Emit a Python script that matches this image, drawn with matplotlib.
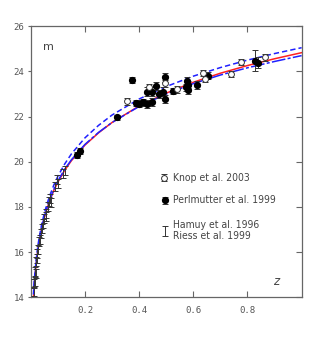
import numpy as np
import matplotlib
matplotlib.use("Agg")
import matplotlib.pyplot as plt

# model curves
z_curve = [0.005, 0.0075, 0.01, 0.012, 0.015, 0.02, 0.025, 0.03, 0.04, 0.05, 0.06, 0.07,
           0.085, 0.1, 0.125, 0.15, 0.2, 0.25, 0.3, 0.4, 0.5, 0.6, 0.7, 0.8, 0.9, 1.0]
m_red = [12.44, 13.33, 13.96, 14.36, 14.85, 15.48, 15.97, 16.38, 17.02, 17.52, 17.93, 18.28,
         18.73, 19.10, 19.62, 20.05, 20.74, 21.28, 21.74, 22.47, 23.04, 23.52, 23.92, 24.26, 24.56, 24.83]
m_dash = [12.64, 13.53, 14.16, 14.56, 15.05, 15.68, 16.17, 16.58, 17.22, 17.72, 18.14, 18.50,
          18.97, 19.36, 19.90, 20.35, 21.06, 21.61, 22.07, 22.78, 23.33, 23.79, 24.17, 24.50, 24.79, 25.05]
m_dashdot = [12.49, 13.38, 14.01, 14.41, 14.90, 15.53, 16.02, 16.43, 17.07, 17.57, 17.98, 18.33,
             18.78, 19.15, 19.67, 20.09, 20.77, 21.30, 21.74, 22.45, 23.00, 23.46, 23.84, 24.16, 24.44, 24.70]

# Perlmutter et al. 1999 (filled)
z_perl = [0.172, 0.180, 0.318, 0.373, 0.387, 0.400, 0.413, 0.428, 0.430, 0.448, 0.449, 0.464, 0.472,
          0.489, 0.495, 0.497, 0.526, 0.572, 0.578, 0.580, 0.581, 0.613, 0.656, 0.828, 0.840]
m_perl = [20.30, 20.48, 21.97, 23.61, 22.60, 22.57, 22.63, 22.55, 23.11, 23.11, 22.64, 23.36, 23.00,
          23.11, 22.79, 23.75, 23.13, 23.29, 23.57, 23.42, 23.18, 23.39, 23.81, 24.48, 24.38]
e_perl = [0.12, 0.12, 0.12, 0.14, 0.14, 0.15, 0.14, 0.18, 0.20, 0.20, 0.18, 0.18, 0.16,
          0.18, 0.18, 0.20, 0.15, 0.15, 0.18, 0.15, 0.17, 0.17, 0.15, 0.45, 0.25]

# Knop et al. 2003 (open)
z_knop = [0.354, 0.437, 0.495, 0.540, 0.636, 0.645, 0.740, 0.777, 0.864]
m_knop = [22.68, 23.30, 23.48, 23.20, 23.94, 23.67, 23.88, 24.42, 24.62]
e_knop = [0.15, 0.15, 0.15, 0.14, 0.14, 0.14, 0.12, 0.13, 0.14]

# Hamuy et al. 1996 / Riess et al. 1999 (low z)
z_low = [0.0115, 0.0130, 0.0140, 0.0170, 0.0180, 0.0205, 0.0220, 0.0245, 0.0265, 0.0300, 0.0330,
         0.0370, 0.0410, 0.0450, 0.0500, 0.0560, 0.0580, 0.0620, 0.0690, 0.0710, 0.0760, 0.0890,
         0.0960, 0.1010, 0.1200, 0.1250]
m_low = [14.26, 14.62, 14.70, 15.14, 15.05, 15.58, 15.70, 15.96, 16.10, 16.47, 16.55,
         16.84, 17.06, 17.28, 17.50, 17.73, 17.58, 18.02, 18.24, 18.39, 18.20, 18.90,
         19.20, 19.05, 19.50, 19.60]
e_low = [0.2] * len(z_low)

fig = plt.figure(figsize=(3.24, 3.45), dpi=100)
ax = fig.add_axes([0.095, 0.138, 0.836, 0.786])

ax.plot(z_curve, m_red, color="#ff2020", lw=1.1, zorder=2)
ax.plot(z_curve, m_dash, color="#2020ff", lw=1.1, ls=(0, (3.5, 2)), zorder=2)
ax.plot(z_curve, m_dashdot, color="#2020ff", lw=1.1, ls=(0, (9, 1.5, 2, 1.5)), zorder=2)

ax.errorbar(z_low, m_low, yerr=e_low, fmt="none", ecolor="#333333", elinewidth=0.7,
            capsize=2.2, capthick=0.7, zorder=3)
ax.errorbar(z_perl, m_perl, yerr=e_perl, fmt="o", color="black", ms=4.2, ecolor="#333333",
            elinewidth=0.7, capsize=2.2, capthick=0.7, zorder=4)
ax.errorbar(z_knop, m_knop, yerr=e_knop, fmt="o", mfc="white", mec="#333333", mew=0.7, ms=4.2,
            ecolor="#333333", elinewidth=0.7, capsize=2.2, capthick=0.7, zorder=4)

ax.set_xlim(0, 1.0)
ax.set_ylim(14, 26)
ax.set_xticks([0.2, 0.4, 0.6, 0.8])
ax.set_xticklabels(["0.2", "0.4", "0.6", "0.8"])
ax.set_yticks([14, 16, 18, 20, 22, 24, 26])

for sp in ax.spines.values():
    sp.set_color("#666666")
    sp.set_linewidth(0.9)
ax.tick_params(axis="x", which="both", direction="in", top=True, length=4, width=0.8,
               color="#666666", labelsize=6.5, labelcolor="#555555", pad=6)
ax.tick_params(axis="y", which="both", direction="out", length=2.5, width=0.8,
               color="#666666", labelsize=6.5, labelcolor="#555555", pad=2)
ax.tick_params(axis="y", right=True)
for t in ax.yaxis.get_ticklines()[1::2]:
    t.set_marker(matplotlib.lines.TICKLEFT)
    t.set_markersize(4)
for lab in ax.get_xticklabels() + ax.get_yticklabels():
    lab.set_family("DejaVu Sans Mono")

txt = dict(family="DejaVu Sans", fontstretch="condensed", color="#444444", fontsize=7.5)
ax.text(0.045, 0.925, "m", transform=ax.transAxes, fontsize=8, color="#444444", va="center")
ax.text(0.895, 0.045, "z", transform=ax.transAxes, fontsize=8.5, color="#444444", style="italic")

# legend drawn by hand
ax.errorbar([0.493], [19.3], yerr=[0.15], fmt="o", mfc="white", mec="#333333", mew=0.7, ms=4.2,
            ecolor="#333333", elinewidth=0.7, capsize=2.2, capthick=0.7)
ax.text(0.525, 19.3, "Knop et al. 2003", va="center", **txt)
ax.errorbar([0.497], [18.3], yerr=[0.15], fmt="o", color="black", ms=4.2, ecolor="#333333",
            elinewidth=0.7, capsize=2.2, capthick=0.7)
ax.text(0.525, 18.3, "Perlmutter et al. 1999", va="center", **txt)
ax.errorbar([0.497], [16.95], yerr=[0.22], fmt="none", ecolor="#333333", elinewidth=0.7,
            capsize=2.2, capthick=0.7)
ax.text(0.525, 17.2, "Hamuy et al. 1996", va="center", **txt)
ax.text(0.525, 16.7, "Riess et al. 1999", va="center", **txt)

fig.savefig("out.png", dpi=100)
